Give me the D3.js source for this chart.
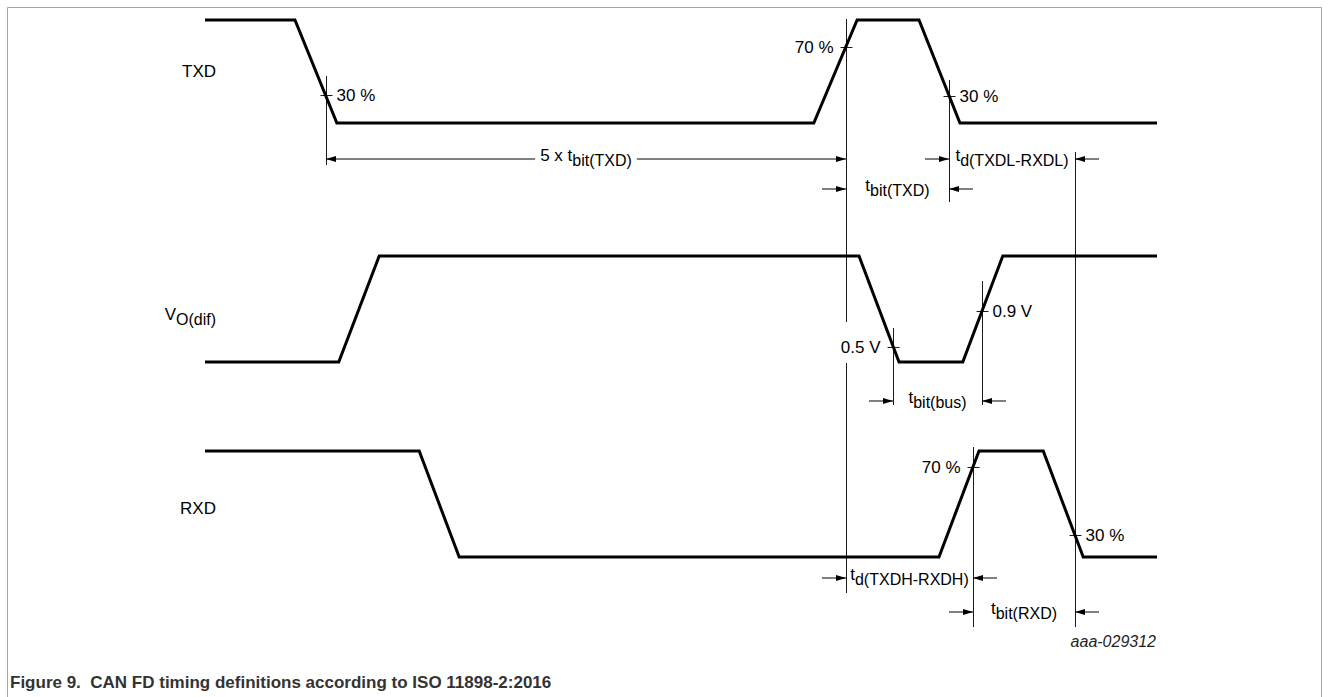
<!doctype html>
<html lang="en">
<head>
  <meta charset="utf-8">
  <title>CAN FD timing definitions</title>
  <style>
    body { margin: 0; background: #fff; }
    svg { display: block; font-family: 'Liberation Sans', Arial, sans-serif; }
  </style>
</head>
<body>
  <script src="https://cdn.jsdelivr.net/npm/d3@7"></script>
  <script>
    // Signal names: [main, subscript]
    const signalNames = [['TXD', ''], ['V', 'O(dif)'], ['RXD', '']];

    // Waveform vertices [time, level]; time in units 0..200, level 0 = low, 1 = high
    const txdWave = [[0, 1], [18.9, 1], [27.7, 0], [127.9, 0], [137.0, 1], [150.0, 1], [158.6, 0], [200, 0]];
    const voWave  = [[0, 0], [28.1, 0], [36.6, 1], [137.4, 1], [145.8, 0], [159.2, 0], [167.6, 1], [200, 1]];
    const rxdWave = [[0, 1], [45.0, 1], [53.4, 0], [154.2, 0], [162.6, 1], [176.1, 1], [184.5, 0], [200, 0]];

    // Threshold markers: which signal, which edge (first vertex index), level crossed, label
    const markerSignal = [0, 0, 0, 1, 1, 2, 2];
    const markerEdge   = [1, 3, 5, 3, 5, 3, 5];
    const markerLevel  = [0.27, 0.74, 0.26, 0.14, 0.48, 0.85, 0.21];
    const markerLabels = ['30 %', '70 %', '30 %', '0.5 V', '0.9 V', '70 %', '30 %'];

    // Timing dimensions: label [main, subscript], from marker, to marker
    const dimLabels = [['5 x t', 'bit(TXD)'], ['t', 'bit(TXD)'], ['t', 'd(TXDL-RXDL)'],
                       ['t', 'bit(bus)'], ['t', 'd(TXDH-RXDH)'], ['t', 'bit(RXD)']];
    const dimFrom = [0, 1, 2, 3, 1, 5];
    const dimTo   = [1, 2, 6, 4, 5, 6];

    const figureId = 'aaa-029312';
    const caption = 'Figure 9.  CAN FD timing definitions according to ISO 11898-2:2016';

    // ---- layout ----
    const w = 1329;
    const h = 697;
    const rowRanges = [[123, 20], [362, 256], [557, 451]];
    const rowLabelY = [77, 320, 514];
    const markerSide = [1, -1, 1, -1, 1, -1, 1];
    // vertical extents of the reference line through each marker (list of segments)
    const refExtents = [[[76, 165]], [[19, 322], [363, 593]], [[80, 202]], [[328, 405]],
                        [[281, 405]], [[447, 627]], [[152, 627]]];
    const dimY = [159, 189, 159, 401, 578, 612];
    const dimInner = [true, false, false, false, false, false];

    const svg = d3.select('body')
                  .append('svg')
                  .attr('width', w)
                  .attr('height', h);

    // Frame
    svg.append('path')
       .attr('d', `M7.5,${h} V7.5 H1321.5 V${h}`)
       .attr('fill', 'none')
       .attr('stroke', '#a6a6a6');

    const xScale = d3.scaleLinear().domain([0, 200]).range([205, 1157]);
    const yScales = rowRanges.map((r) => d3.scaleLinear().domain([0, 1]).range(r));
    const waves = [txdWave, voWave, rxdWave];

    // Label with optional subscript
    function subText(g, x, y, main, sub, anchor, size) {
      const t = g.append('text')
                 .attr('x', x)
                 .attr('y', y)
                 .attr('text-anchor', anchor)
                 .attr('fill', '#000')
                 .style('font-size', size + 'px');
      t.append('tspan').text(main);
      if (sub) {
        t.append('tspan').attr('dy', 5).style('font-size', (size - 1) + 'px').text(sub);
      }
      return t;
    }

    // Signal names
    signalNames.forEach((n, i) => subText(svg, 216, rowLabelY[i], n[0], n[1], 'end', 17));

    // Threshold crossing positions from the waveforms
    const markers = markerLevel.map((lv, i) => {
      const s = markerSignal[i];
      const a = waves[s][markerEdge[i]];
      const b = waves[s][markerEdge[i] + 1];
      const t = a[0] + (b[0] - a[0]) * (lv - a[1]) / (b[1] - a[1]);
      return { x: Math.round(xScale(t)) + 0.5, y: Math.round(yScales[s](lv)) + 0.5 };
    });

    // Reference lines
    const refs = svg.append('g').attr('stroke', '#1a1a1a').attr('stroke-width', 1);
    markers.forEach((m, i) => {
      refExtents[i].forEach((seg) => {
        refs.append('line').attr('x1', m.x).attr('x2', m.x).attr('y1', seg[0]).attr('y2', seg[1]);
      });
      refs.append('line').attr('x1', m.x - 6).attr('x2', m.x + 6).attr('y1', m.y).attr('y2', m.y);
    });

    // Waveforms
    svg.selectAll('path.wave')
       .data(waves)
       .enter()
       .append('path')
       .attr('class', 'wave')
       .attr('d', (d, i) => d3.line().x((p) => xScale(p[0])).y((p) => yScales[i](p[1]))(d))
       .attr('fill', 'none')
       .attr('stroke', '#000')
       .attr('stroke-width', 3)
       .attr('stroke-linejoin', 'miter');

    // Threshold labels
    markers.forEach((m, i) => {
      const side = markerSide[i];
      svg.append('text')
         .attr('x', side > 0 ? m.x + 10 : m.x - 13)
         .attr('y', m.y + 5.5)
         .attr('text-anchor', side > 0 ? 'start' : 'end')
         .style('font-size', '17px')
         .text(markerLabels[i]);
    });

    // Arrowhead, tip at (x, y), dir = +1 pointing right, -1 pointing left
    function head(x, y, dir) {
      svg.append('path')
         .attr('d', `M${x},${y} L${x - dir * 10},${y - 3} L${x - dir * 10},${y + 3} Z`)
         .attr('fill', '#000');
    }

    // Timing dimensions
    dimLabels.forEach((lab, i) => {
      const x1 = markers[dimFrom[i]].x - 0.5;
      const x2 = markers[dimTo[i]].x - 0.5;
      const y = dimY[i];
      const label = subText(svg, (x1 + x2) / 2, y + 2, lab[0], lab[1], 'middle', 17);
      if (dimInner[i]) {
        const bb = label.node().getBBox();
        svg.append('line').attr('x1', x1).attr('x2', bb.x - 5).attr('y1', y).attr('y2', y)
           .attr('stroke', '#000');
        svg.append('line').attr('x1', bb.x + bb.width + 5).attr('x2', x2).attr('y1', y).attr('y2', y)
           .attr('stroke', '#000');
        head(x1, y, -1);
        head(x2, y, 1);
      } else {
        svg.append('line').attr('x1', x1 - 24).attr('x2', x1).attr('y1', y).attr('y2', y)
           .attr('stroke', '#000');
        svg.append('line').attr('x1', x2 + 24).attr('x2', x2).attr('y1', y).attr('y2', y)
           .attr('stroke', '#000');
        head(x1, y, 1);
        head(x2, y, -1);
      }
    });

    // Figure id
    svg.append('text')
       .attr('x', 1156)
       .attr('y', 647)
       .attr('text-anchor', 'end')
       .style('font-size', '16px')
       .style('font-style', 'italic')
       .attr('fill', '#222')
       .text(figureId);

    // Caption
    svg.append('text')
       .attr('x', 10)
       .attr('y', 688)
       .style('font-size', '17px')
       .style('font-weight', 'bold')
       .style('white-space', 'pre')
       .attr('fill', '#333')
       .text(caption);
  </script>
</body>
</html>
